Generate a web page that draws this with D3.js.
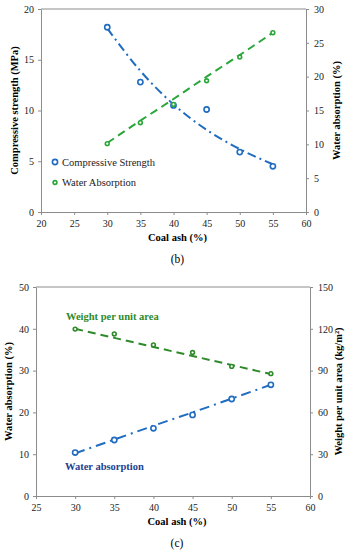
<!DOCTYPE html>
<html>
<head>
<meta charset="utf-8">
<script src="https://cdn.jsdelivr.net/npm/d3@7"></script>
<style>
  body { margin: 0; background: #fff; }
  .axis path, .axis line { stroke: #8c8c8c; }
</style>
</head>
<body>
<svg id="chart" width="350" height="550"></svg>
<script>
// --- données ---
const coalAsh = [30, 35, 40, 45, 50, 55];

// (b)
const compressiveStrength = [18.2, 12.8, 10.5, 10.1, 5.9, 4.5];
const compressiveTrend = [18.1, 13.9, 10.6, 8.1, 6.2, 4.7];
const waterAbsorptionB = [10.1, 13.2, 15.9, 19.4, 22.9, 26.5];
const waterTrendB = [10.2, 13.5, 16.7, 20.0, 23.2, 26.5];

// (c)
const waterAbsorptionC = [10.4, 13.4, 16.2, 19.4, 23.2, 26.6];
const waterTrendC = [10.2, 13.5, 16.8, 20.0, 23.3, 26.6];
const weightPerArea = [119.8, 116.3, 108.4, 103.0, 93.0, 87.8];
const weightTrend = [120.0, 113.5, 107.0, 100.5, 94.0, 87.5];

const ticksXB = [20, 25, 30, 35, 40, 45, 50, 55, 60];
const ticksLeftB = [0, 5, 10, 15, 20];
const ticksRightB = [0, 5, 10, 15, 20, 25, 30];
const ticksXC = [25, 30, 35, 40, 45, 50, 55, 60];
const ticksLeftC = [0, 10, 20, 30, 40, 50];
const ticksRightC = [0, 30, 60, 90, 120, 150];

const FONT = 'Liberation Serif';
const blue = '#1f6cc0';
const greenB = '#2aa63a';
const greenC = '#2f8a2a';
const navy = '#1f3f8f';

const svg = d3.select('#chart');

function drawPanel(opt) {
    const g = svg.append('g');
    const x = d3.scaleLinear().domain(opt.xDomain).range([opt.left, opt.right]);
    const yL = d3.scaleLinear().domain(opt.yLeft).range([opt.bottom, opt.top]);
    const yR = d3.scaleLinear().domain(opt.yRight).range([opt.bottom, opt.top]);

    // cadre supérieur
    g.append('line')
        .attr('x1', opt.left).attr('x2', opt.right)
        .attr('y1', opt.top).attr('y2', opt.top)
        .attr('stroke', '#8c8c8c');

    g.append('g').attr('class', 'axis')
        .attr('transform', `translate(0,${opt.bottom})`)
        .call(d3.axisBottom(x).tickValues(opt.xTicks).tickSize(3).tickPadding(5).tickSizeOuter(0));
    g.append('g').attr('class', 'axis')
        .attr('transform', `translate(${opt.left},0)`)
        .call(d3.axisLeft(yL).tickValues(opt.leftTicks).tickSize(3).tickPadding(4).tickSizeOuter(0));
    g.append('g').attr('class', 'axis')
        .attr('transform', `translate(${opt.right},0)`)
        .call(d3.axisRight(yR).tickValues(opt.rightTicks).tickSize(3).tickPadding(5).tickSizeOuter(0));

    g.selectAll('.axis').attr('font-family', FONT).attr('font-size', 10);
    g.selectAll('.axis text').attr('fill', '#222');

    const midY = (opt.top + opt.bottom) / 2;
    g.append('text')
        .attr('transform', `translate(${opt.leftTitleX},${midY}) rotate(-90)`)
        .attr('text-anchor', 'middle').attr('font-size', 10.5).attr('font-weight', 'bold')
        .text(opt.leftTitle);
    g.append('text')
        .attr('transform', `translate(${opt.rightTitleX},${midY}) rotate(-90)`)
        .attr('text-anchor', 'middle').attr('font-size', 10.5).attr('font-weight', 'bold')
        .text(opt.rightTitle);
    g.append('text')
        .attr('x', (opt.left + opt.right) / 2 + 4).attr('y', opt.bottom + 29)
        .attr('text-anchor', 'middle').attr('font-size', 10.5).attr('font-weight', 'bold')
        .text('Coal ash (%)');
    g.append('text')
        .attr('x', (opt.left + opt.right) / 2 + 4).attr('y', opt.bottom + 51)
        .attr('text-anchor', 'middle').attr('font-size', 11.5)
        .text(opt.panel);

    opt.series.forEach((s) => {
        const y = s.axis === 'left' ? yL : yR;
        g.append('path')
            .datum(coalAsh.map((c, i) => [c, s.trend[i]]))
            .attr('fill', 'none')
            .attr('stroke', s.color)
            .attr('stroke-width', 2)
            .attr('stroke-dasharray', s.dash)
            .attr('d', d3.line().x((d) => x(d[0])).y((d) => y(d[1])).curve(d3.curveMonotoneX));

        g.selectAll(null)
            .data(coalAsh.map((c, i) => [c, s.values[i]]))
            .enter()
            .append('circle')
            .attr('cx', (d) => x(d[0]))
            .attr('cy', (d) => y(d[1]))
            .attr('r', s.r)
            .attr('fill', s.fill)
            .attr('stroke', s.color)
            .attr('stroke-width', 1.6);
    });

    return { g, x, yL, yR };
}

const b = drawPanel({
    left: 41, right: 306, top: 9, bottom: 212,
    xDomain: [20, 60], yLeft: [0, 20], yRight: [0, 30],
    xTicks: ticksXB, leftTicks: ticksLeftB, rightTicks: ticksRightB,
    leftTitle: 'Compressive strength (MPa)', leftTitleX: 18,
    rightTitle: 'Water absorption (%)', rightTitleX: 340,
    panel: '(b)',
    series: [
        { values: compressiveStrength, trend: compressiveTrend, axis: 'left', color: blue, fill: '#fff', r: 2.6, dash: '9,4,2,4' },
        { values: waterAbsorptionB, trend: waterTrendB, axis: 'right', color: greenB, fill: '#fff', r: 1.9, dash: '8,5' }
    ]
});

// légende (b)
const legendItems = [
    { label: 'Compressive Strength', color: blue, r: 2.6 },
    { label: 'Water Absorption', color: greenB, r: 1.9 }
];
legendItems.forEach((item, i) => {
    b.g.append('circle')
        .attr('cx', 55).attr('cy', 162 + i * 20.5)
        .attr('r', item.r).attr('fill', '#fff')
        .attr('stroke', item.color).attr('stroke-width', 1.6);
    b.g.append('text')
        .attr('x', 62).attr('y', 165.5 + i * 20.5)
        .attr('font-size', 10.5).attr('fill', '#222')
        .text(item.label);
});

const c = drawPanel({
    left: 36, right: 310, top: 287, bottom: 496,
    xDomain: [25, 60], yLeft: [0, 50], yRight: [0, 150],
    xTicks: ticksXC, leftTicks: ticksLeftC, rightTicks: ticksRightC,
    leftTitle: 'Water absorption (%)', leftTitleX: 12,
    rightTitle: 'Weight per unit area (kg/m²)', rightTitleX: 342,
    panel: '(c)',
    series: [
        { values: waterAbsorptionC, trend: waterTrendC, axis: 'left', color: blue, fill: '#fff', r: 2.6, dash: '10,5,2,5' },
        { values: weightPerArea, trend: weightTrend, axis: 'right', color: greenC, fill: '#fff', r: 1.9, dash: '8,5' }
    ]
});

c.g.append('text')
    .attr('x', 66).attr('y', 320)
    .attr('font-size', 10.5).attr('font-weight', 'bold').attr('fill', greenC)
    .text('Weight per unit area');
c.g.append('text')
    .attr('x', 65).attr('y', 470)
    .attr('font-size', 10.5).attr('font-weight', 'bold').attr('fill', navy)
    .text('Water absorption');

// police à empattements partout
svg.selectAll('text').attr('font-family', FONT);
</script>
</body>
</html>
